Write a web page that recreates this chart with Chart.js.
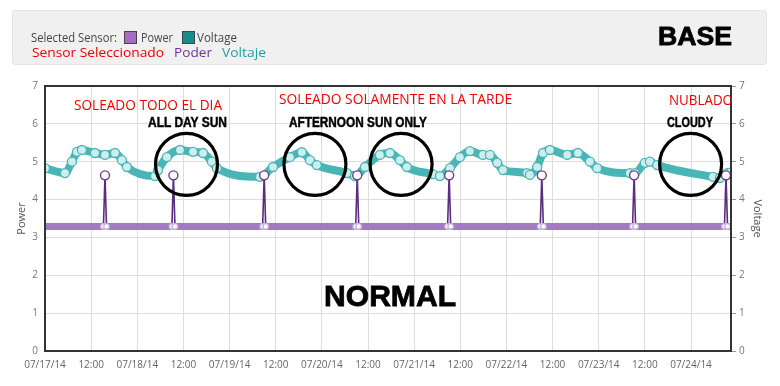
<!DOCTYPE html>
<html>
<head>
<meta charset="utf-8">
<script src="https://cdn.jsdelivr.net/npm/chart.js@4.4.1/dist/chart.umd.min.js"></script>
<style>
  html, body { margin: 0; padding: 0; }
  body { width: 780px; height: 386px; position: relative; overflow: hidden; background: #fff; font-family: 'Open Sans', sans-serif; }
  #panel { position: absolute; left: 12px; top: 10px; width: 755px; height: 55px; background: #f0f0f0; border: 1px solid #e4e4e4; border-radius: 3px; box-sizing: border-box; }
  #c { position: absolute; left: 0; top: 0; }
  .t { position: absolute; white-space: nowrap; line-height: 1; transform-origin: 0 0; }
  .legend { font-family: 'Open Sans', sans-serif; font-size: 12px; color: #444; }
  .sw { position: absolute; width: 11px; height: 11px; border: 1px solid #444; }
  .es { font-family: 'Open Sans', sans-serif; font-size: 13px; }
  .red { font-family: 'Open Sans', sans-serif; font-size: 14px; color: #ee0000; }
  .blk { font-family: 'Liberation Sans Narrow', 'Liberation Sans', sans-serif; font-weight: bold; font-size: 14px; color: #000; -webkit-text-stroke: 0.45px #000; }
  .big { font-family: 'Liberation Sans', Arial, sans-serif; font-weight: bold; color: #000; -webkit-text-stroke: 0.8px #000; }
</style>
</head>
<body>
<div id="panel"></div>
<canvas id="c" width="780" height="386"></canvas>

<div class="t legend" style="left:31px; top:31.5px;" data-w="86">Selected Sensor:</div>
<div class="sw" style="left:124px; top:31px; background:#a56cc6;"></div>
<div class="t legend" style="left:141px; top:31.5px;" data-w="32">Power</div>
<div class="sw" style="left:182px; top:31px; background:#168c8c;"></div>
<div class="t legend" style="left:197px; top:31.5px;" data-w="40">Voltage</div>
<div class="t es" style="left:32px; top:45.5px; color:#ee0000;" data-w="132">Sensor Seleccionado</div>
<div class="t es" style="left:174px; top:45.5px; color:#7030a0;" data-w="38">Poder</div>
<div class="t es" style="left:222px; top:45.5px; color:#1f9e9e;" data-w="44">Voltaje</div>
<div class="t big" style="left:658px; top:23px; font-size:26px;" data-w="74">BASE</div>

<div class="t red" style="left:74px; top:97.6px;" data-w="148">SOLEADO TODO EL DIA</div>
<div class="t red" style="left:279px; top:91.6px;" data-w="233">SOLEADO SOLAMENTE EN LA TARDE</div>
<div class="t red" style="left:669px; top:92.6px;" data-w="64">NUBLADO</div>
<div class="t blk" style="left:148px; top:115px;" data-w="79">ALL DAY SUN</div>
<div class="t blk" style="left:289px; top:115px;" data-w="138">AFTERNOON SUN ONLY</div>
<div class="t blk" style="left:667px; top:115px;" data-w="46">CLOUDY</div>
<div class="t big" style="left:324px; top:280.6px; font-size:30px;" data-w="132">NORMAL</div>

<script>
// ---- data (hours since 07/17/14 00:00) ----
const xTickLabels = ['07/17/14', '12:00', '07/18/14', '12:00', '07/19/14', '12:00', '07/20/14', '12:00',
                     '07/21/14', '12:00', '07/22/14', '12:00', '07/23/14', '12:00', '07/24/14'];
const xMaxHours = 178.4;

const voltageHours = [0, 5.2, 7.0, 8.3, 9.6, 13.0, 15.6, 18.2, 20.0, 21.3,
  28.6, 29.4, 31.7, 35.1, 38.5, 41.1, 43.4, 44.7,
  55.9, 59.3, 63.7, 66.8, 68.9, 70.7,
  78.5, 80.6, 83.2, 87.1, 89.7, 92.3, 94.1,
  100.9, 102.7, 105.3, 107.9, 110.5, 113.9, 115.7, 117.6, 119.1,
  125.4, 126.1, 128.0, 129.5, 131.3, 135.8, 138.6, 141.7, 143.6,
  152.1, 153.4, 156.0, 157.3, 159.2, 173.7, 175.5, 177.4, 178.4];
const voltageValues = [4.83, 4.70, 5.00, 5.26, 5.31, 5.23, 5.18, 5.23, 5.04, 4.86,
  4.62, 4.78, 5.12, 5.31, 5.26, 5.23, 5.00, 4.83,
  4.60, 4.86, 5.12, 5.25, 5.04, 4.91,
  4.70, 4.62, 4.86, 5.18, 5.23, 5.04, 4.86,
  4.67, 4.62, 4.83, 5.12, 5.28, 5.18, 5.18, 4.97, 4.78,
  4.70, 4.65, 4.86, 5.23, 5.31, 5.18, 5.23, 5.00, 4.83,
  4.70, 4.70, 4.97, 5.00, 4.91, 4.60, 4.57, 4.70, 4.72];

const powerHours = [0,
  15.2, 15.6, 16.0,
  33.0, 33.4, 33.8,
  56.6, 57.0, 57.4,
  80.8, 81.2, 81.6,
  104.7, 105.1, 105.5,
  128.8, 129.2, 129.6,
  152.8, 153.2, 153.6,
  176.7, 177.1, 177.5,
  178.4];
const powerValues = [3.29,
  3.29, 4.64, 3.29,
  3.29, 4.64, 3.29,
  3.29, 4.64, 3.29,
  3.29, 4.64, 3.29,
  3.29, 4.64, 3.29,
  3.29, 4.64, 3.29,
  3.29, 4.64, 3.29,
  3.29, 4.64, 3.29,
  3.29];

// annotation rings (hours, value)
const ringHours = [36.8, 70.2, 92.6, 167.9];
const ringValue = 4.93;

const zip = (xs, ys) => xs.map((x, i) => ({ x: x, y: ys[i] }));

const framePlugin = {
  id: 'frameAndRings',
  afterDatasetsDraw(chart) {
    const { ctx, chartArea: a, scales } = chart;
    ctx.save();
    ctx.strokeStyle = '#333';
    ctx.lineWidth = 2;
    ctx.strokeRect(a.left, a.top, a.right - a.left, a.bottom - a.top);
    ctx.strokeStyle = '#000';
    ctx.lineWidth = 3.2;
    ringHours.forEach(h => {
      ctx.beginPath();
      ctx.arc(scales.x.getPixelForValue(h), scales.y.getPixelForValue(ringValue), 31, 0, Math.PI * 2);
      ctx.stroke();
    });
    ctx.restore();
  }
};

Chart.defaults.font.family = "'Open Sans', sans-serif";
Chart.defaults.color = '#666';

const isFlat = ctx => ctx.p0.parsed.y === ctx.p1.parsed.y;

new Chart(document.getElementById('c'), {
  type: 'line',
  data: {
    datasets: [
      {
        label: 'Power',
        data: zip(powerHours, powerValues),
        yAxisID: 'y',
        order: 0,
        borderColor: '#a07cbe',
        borderWidth: 7,
        segment: {
          borderWidth: ctx => isFlat(ctx) ? 7 : 1.6,
          borderColor: ctx => isFlat(ctx) ? '#a07cbe' : '#5c2c7e'
        },
        pointRadius: ctx => {
          const v = ctx.raw ? ctx.raw.y : 0;
          if (v > 4) return 4.5;
          const i = ctx.dataIndex;
          return (i === 0 || i === powerValues.length - 1) ? 0 : 2.8;
        },
        pointBackgroundColor: '#ffffff',
        pointBorderColor: ctx => (ctx.raw && ctx.raw.y > 4) ? '#6b3d8d' : '#c6b0d8',
        pointBorderWidth: 1.4,
        tension: 0
      },
      {
        label: 'Voltage',
        data: zip(voltageHours, voltageValues),
        yAxisID: 'y2',
        order: 1,
        borderColor: '#4ab5b5',
        borderWidth: 8,
        cubicInterpolationMode: 'monotone',
        pointRadius: 4.5,
        pointBackgroundColor: '#cdeeee',
        pointBorderColor: '#4fb4b4',
        pointBorderWidth: 1.3
      }
    ]
  },
  options: {
    responsive: false,
    animation: false,
    devicePixelRatio: 1,
    layout: { padding: { top: 86, left: 0, right: 0, bottom: 0 } },
    plugins: { legend: { display: false }, tooltip: { enabled: false } },
    scales: {
      x: {
        type: 'linear',
        min: 0,
        max: xMaxHours,
        grid: { color: '#dddddd', drawTicks: false },
        border: { display: false },
        ticks: {
          stepSize: 12,
          includeBounds: false,
          padding: 8,
          maxRotation: 0,
          autoSkip: false,
          font: { size: 10 },
          color: '#666',
          callback: v => (v % 12 === 0 ? xTickLabels[v / 12] : null)
        },
        afterFit: s => { s.height = 35; }
      },
      y: {
        position: 'left',
        min: 0,
        max: 7,
        grid: { color: '#dddddd', drawTicks: false },
        border: { display: false },
        ticks: { stepSize: 1, padding: 7, font: { size: 10 }, color: '#777' },
        title: { display: true, text: 'Power', color: '#555', font: { size: 11 }, padding: { top: 15, bottom: 0 } },
        afterFit: s => { s.width = 45; }
      },
      y2: {
        position: 'right',
        min: 0,
        max: 7,
        grid: { drawOnChartArea: false, drawTicks: true, tickLength: 5, color: '#999' },
        border: { display: false },
        ticks: { stepSize: 1, padding: 3, font: { size: 10 }, color: '#777' },
        title: { display: true, text: 'Voltage', color: '#555', font: { size: 11 }, padding: { top: 16, bottom: 0 } },
        afterFit: s => { s.width = 49; }
      }
    }
  },
  plugins: [framePlugin]
});

// fit annotation text widths to the reference
document.querySelectorAll('[data-w]').forEach(el => {
  const target = parseFloat(el.dataset.w);
  const w = el.getBoundingClientRect().width;
  if (w > 0) {
    const r = target / w;
    if (r > 0.75 && r < 1.3) el.style.transform = 'scaleX(' + r.toFixed(3) + ')';
  }
});
</script>
</body>
</html>
